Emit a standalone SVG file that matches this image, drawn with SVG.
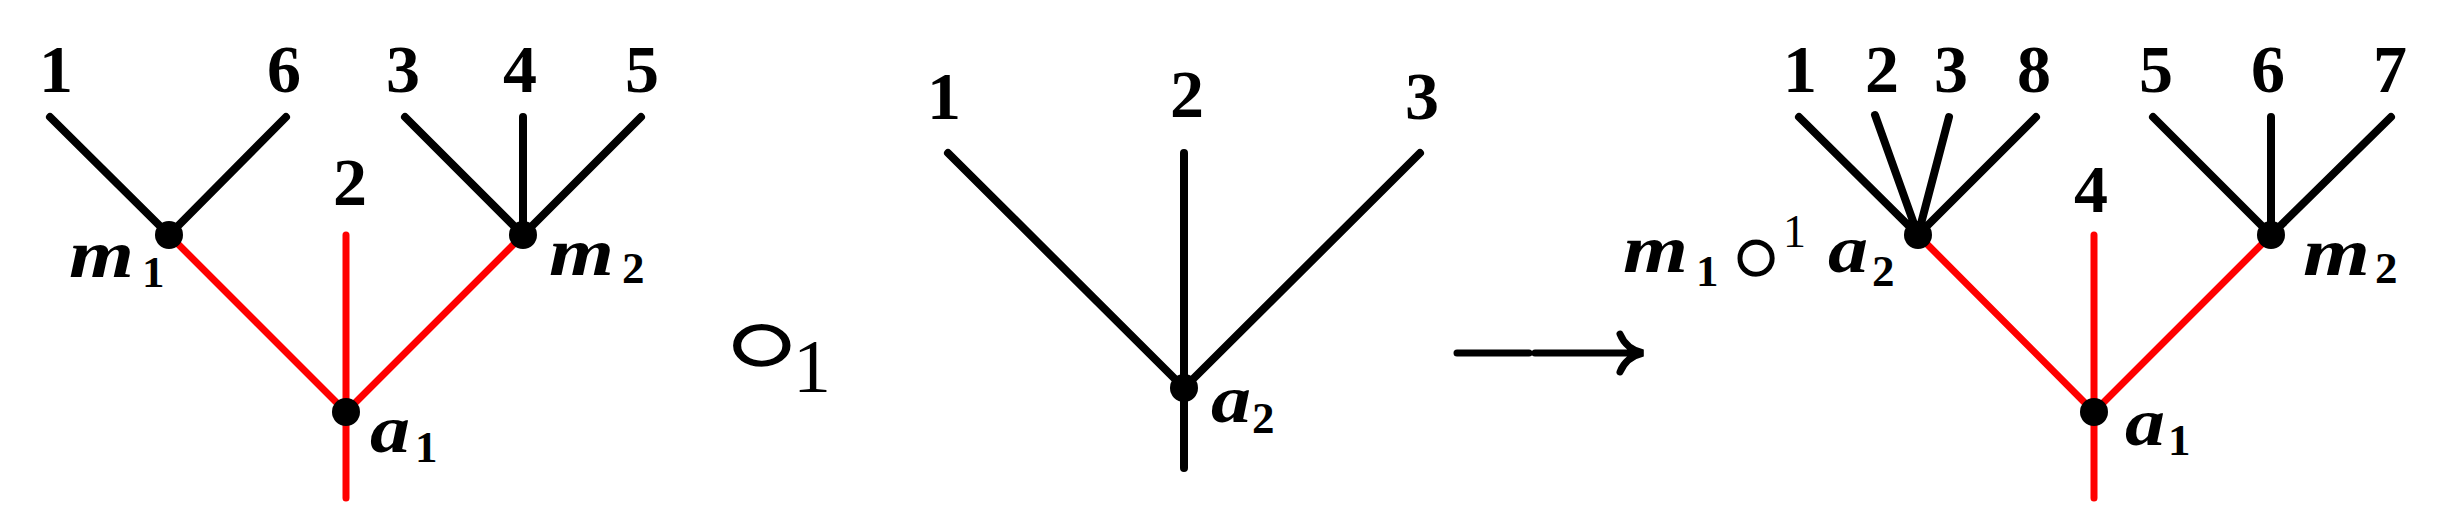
<svg xmlns="http://www.w3.org/2000/svg" width="2442" height="507" viewBox="0 0 2442 507">
<style>
.bk{stroke:#000;stroke-width:8;stroke-linecap:round;fill:none}
.rd{stroke:#ff0000;stroke-width:7;stroke-linecap:round;fill:none}
.dot{fill:#000}
.num{font-family:"Liberation Serif",serif;font-weight:bold;font-size:68px;text-anchor:middle;fill:#000}
.var{font-family:"Liberation Serif",serif;font-weight:bold;font-style:italic;font-size:68px;fill:#000}
.sub{font-family:"Liberation Serif",serif;font-weight:bold;font-size:45px;fill:#000}
.reg{font-family:"Liberation Serif",serif;font-size:46px;fill:#000}
.op{font-family:"DejaVu Sans",sans-serif;fill:#000;stroke:#fff;text-anchor:middle}
</style>
<rect width="2442" height="507" fill="#fff"/>
<g id="connectors">
  <!-- left tree -->
  <path class="bk" d="M50,117 L169,235 M286,117 L169,235"/>
  <path class="bk" d="M405,117 L523,235 M523,117 L523,235 M641,117 L523,235"/>
  <path class="rd" d="M169,235 L346,412 M523,235 L346,412 M346,235 L346,498"/>
  <!-- middle tree -->
  <path class="bk" d="M948,153 L1184,388 M1184,153 L1184,468 M1420,153 L1184,388"/>
  <!-- right tree -->
  <path class="bk" d="M1799,117 L1918,235 M1875,115 L1918,235 M1949,117 L1918,235 M2036,117 L1918,235"/>
  <path class="bk" d="M2153,117 L2271,235 M2271,117 L2271,235 M2391,117 L2271,235"/>
  <path class="rd" d="M1918,235 L2094,412 M2271,235 L2094,412 M2094,235 L2094,498"/>
  <!-- long arrow -->
  <path class="bk" style="stroke-width:7" d="M1457,353 H1529 M1535,353 H1640 M1620,334 Q1626,349 1643,353 Q1626,357 1620,372"/>
</g>
<g id="node-left-m1"><circle class="dot" cx="169" cy="235" r="14"/>
  <text class="var" x="69" y="277" textLength="65" lengthAdjust="spacingAndGlyphs">m</text><text class="sub" x="142" y="287">1</text></g>
<g id="node-left-m2"><circle class="dot" cx="523" cy="235" r="14"/>
  <text class="var" x="549" y="275" textLength="65" lengthAdjust="spacingAndGlyphs">m</text><text class="sub" x="622" y="283">2</text></g>
<g id="node-left-a1"><circle class="dot" cx="346" cy="412" r="14"/>
  <text class="var" x="370" y="452" textLength="40" lengthAdjust="spacingAndGlyphs">a</text><text class="sub" x="415" y="462">1</text></g>
<g id="left-leaves">
  <text class="num" x="56" y="92">1</text>
  <text class="num" x="284" y="92">6</text>
  <text class="num" x="403" y="92">3</text>
  <text class="num" x="520" y="92">4</text>
  <text class="num" x="642" y="92">5</text>
  <text class="num" x="350" y="205">2</text>
</g>
<g id="operator">
  <text class="op" transform="translate(704,392) scale(1.05,0.78)" x="0" y="0" font-size="190" stroke-width="4" letter-spacing="-110">∘</text>
  <text class="reg" x="812" y="392" text-anchor="middle" style="font-size:76px">1</text>
</g>
<g id="node-mid-a2"><circle class="dot" cx="1184" cy="388" r="14"/>
  <text class="var" x="1211" y="422" textLength="40" lengthAdjust="spacingAndGlyphs">a</text><text class="sub" x="1252" y="433">2</text></g>
<g id="mid-leaves">
  <text class="num" x="944" y="119">1</text>
  <text class="num" x="1187" y="117">2</text>
  <text class="num" x="1422" y="119">3</text>
</g>
<g id="node-right-m1a2"><circle class="dot" cx="1918" cy="235" r="14"/>
  <text class="var" x="1623" y="272" textLength="65" lengthAdjust="spacingAndGlyphs">m</text><text class="sub" x="1696" y="286">1</text>
  <text class="op" x="1716" y="299" font-size="130" stroke-width="3" letter-spacing="-80">∘</text>
  <text class="reg" x="1783" y="247">1</text>
  <text class="var" x="1828" y="272" textLength="40" lengthAdjust="spacingAndGlyphs">a</text><text class="sub" x="1872" y="286">2</text></g>
<g id="node-right-m2"><circle class="dot" cx="2271" cy="235" r="14"/>
  <text class="var" x="2303" y="275" textLength="67" lengthAdjust="spacingAndGlyphs">m</text><text class="sub" x="2375" y="283">2</text></g>
<g id="node-right-a1"><circle class="dot" cx="2094" cy="412" r="14"/>
  <text class="var" x="2125" y="445" textLength="40" lengthAdjust="spacingAndGlyphs">a</text><text class="sub" x="2168" y="455">1</text></g>
<g id="right-leaves">
  <text class="num" x="1800" y="92">1</text>
  <text class="num" x="1882" y="92">2</text>
  <text class="num" x="1951" y="92">3</text>
  <text class="num" x="2034" y="92">8</text>
  <text class="num" x="2156" y="92">5</text>
  <text class="num" x="2268" y="92">6</text>
  <text class="num" x="2390" y="92">7</text>
  <text class="num" x="2091" y="212">4</text>
</g>
</svg>
